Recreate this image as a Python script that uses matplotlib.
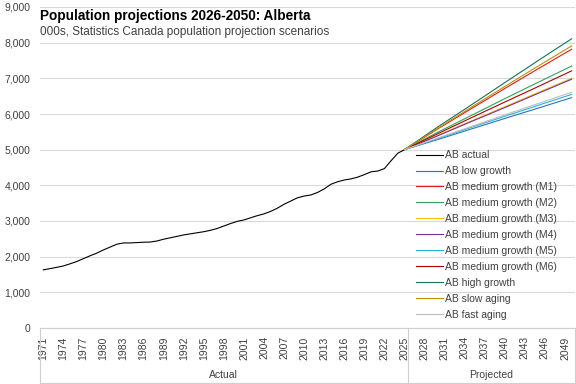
import matplotlib
matplotlib.use("Agg")
import matplotlib.pyplot as plt

plt.rcParams['font.family'] = ['Liberation Sans', 'DejaVu Sans']

# actual population, thousands
years_actual = list(range(1971, 2026))
actual = [1630, 1665, 1700, 1740, 1800, 1865, 1945, 2025, 2100, 2190,
          2270, 2350, 2385, 2385, 2395, 2405, 2410, 2440, 2490, 2530,
          2570, 2610, 2640, 2670, 2700, 2740, 2790, 2860, 2930, 2990,
          3030, 3090, 3150, 3200, 3270, 3360, 3470, 3560, 3650, 3700,
          3730, 3800, 3900, 4030, 4100, 4150, 4180, 4230, 4300, 4380,
          4400, 4470, 4690, 4900, 5000]

# projection scenarios, thousands
years_proj = [2025, 2030, 2035, 2040, 2045, 2050]
low_growth = [5000, 5285, 5580, 5875, 6165, 6460]
m1 = [5000, 5585, 6150, 6715, 7270, 7815]
m2 = [5000, 5490, 5960, 6430, 6890, 7345]
m3 = [5000, 5405, 5805, 6205, 6605, 7000]
m4 = [5000, 5390, 5790, 6180, 6580, 6975]
m5 = [5000, 5310, 5625, 5935, 6245, 6550]
m6 = [5000, 5450, 5895, 6335, 6770, 7210]
high_growth = [5000, 5640, 6255, 6880, 7500, 8110]
slow_aging = [5000, 5600, 6190, 6770, 7345, 7910]
fast_aging = [5000, 5330, 5650, 5975, 6295, 6610]

series = [
    ("AB low growth", low_growth, "#2E75B6"),
    ("AB medium growth (M1)", m1, "#E31A1C"),
    ("AB medium growth (M2)", m2, "#2EA35A"),
    ("AB medium growth (M3)", m3, "#FFC000"),
    ("AB medium growth (M4)", m4, "#7030A0"),
    ("AB medium growth (M5)", m5, "#22B4E6"),
    ("AB medium growth (M6)", m6, "#B00000"),
    ("AB high growth", high_growth, "#127556"),
    ("AB slow aging", slow_aging, "#BF9000"),
    ("AB fast aging", fast_aging, "#BFBFBF"),
]

tick_years = list(range(1971, 2050, 3))
groups = [("Actual", 1970.5, 2025.5), ("Projected", 2025.5, 2050.5)]

fig = plt.figure(figsize=(5.76, 3.84), dpi=100)
ax = fig.add_axes([40/576, 1 - 328/384, 535/576, 321/384])

ax.plot(years_actual, actual, color="black", lw=0.8, label="AB actual")
for name, vals, col in series:
    ax.plot(years_proj, vals, color=col, lw=0.8, label=name)

ax.set_xlim(1970.5, 2050.5)
ax.set_ylim(0, 9000)
ax.set_yticks(range(0, 9001, 1000))
ax.set_yticklabels([f"{v:,}" for v in range(0, 9001, 1000)])
ax.grid(axis="y", color="#D9D9D9", lw=0.8)
ax.set_axisbelow(True)
for s in ["left", "right", "top"]:
    ax.spines[s].set_visible(False)
ax.spines["bottom"].set_color("#D0D0D0")
ax.spines["bottom"].set_linewidth(0.8)

ax.set_xticks(tick_years)
ax.set_xticklabels([str(y) for y in tick_years], rotation=90)
ax.tick_params(axis="x", length=0, pad=6, labelsize=7.5, colors="#404040")
ax.tick_params(axis="y", length=0, pad=7, labelsize=7.5, colors="#404040")

# multi-level category axis: group labels and separators
trans = ax.get_xaxis_transform()
ybot = (328 - 383) / 321
for name, x0, x1 in groups:
    ax.text((x0 + x1) / 2, (328 - 375) / 321, name, transform=trans,
            ha="center", va="center", fontsize=7.5, color="#404040")
    ax.plot([x0, x0], [0, ybot], transform=trans, color="#D0D0D0", lw=0.8, clip_on=False)
ax.plot([2050.5, 2050.5], [0, ybot], transform=trans, color="#D0D0D0", lw=0.8, clip_on=False)
ax.plot([1970.5, 2050.5], [ybot, ybot], transform=trans, color="#D0D0D0", lw=0.8, clip_on=False)

fig.text(40/576, 1 - 16/384, "Population projections 2026-2050: Alberta",
         fontsize=9.8, fontweight="bold", va="center", ha="left")
fig.text(40/576, 1 - 32/384, "000s, Statistics Canada population projection scenarios",
         fontsize=8.5, va="center", ha="left", color="#404040")

ax.legend(loc="upper left", bbox_to_anchor=(411/576, 1 - 145/384),
          bbox_transform=fig.transFigure, frameon=False, fontsize=7.5,
          handlelength=2.6, handletextpad=0.15, labelspacing=0.57, borderpad=0,
          labelcolor="#404040")

fig.savefig("out.png", dpi=100)
